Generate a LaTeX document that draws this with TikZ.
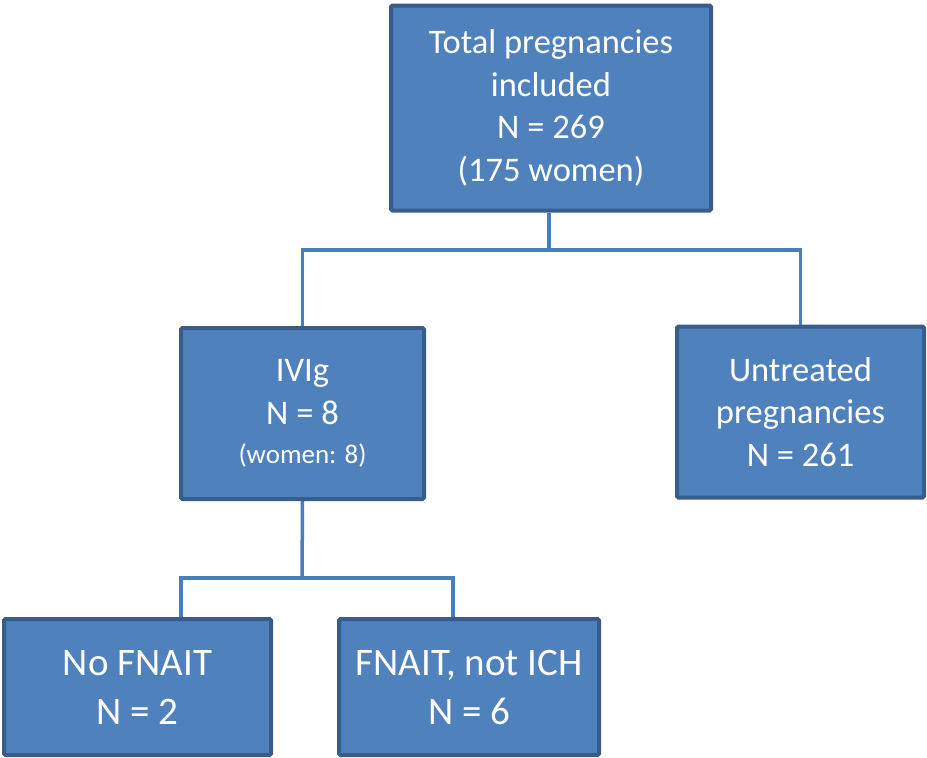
\documentclass[tikz,border=0pt]{standalone}
\usepackage{fontspec}
\setmainfont{Carlito}
\usepackage{xcolor}
\definecolor{boxfill}{HTML}{4F81BD}
\definecolor{boxline}{HTML}{385D8A}
\definecolor{linkblue}{HTML}{4A7EBB}

\begin{document}
\begin{tikzpicture}[x=1pt, y=-1pt,
    group/.style={rectangle, draw=boxline, line width=4pt, fill=boxfill,
      rounded corners=1.5pt, text=white, align=center, inner sep=0pt,
      font=\fontsize{34.5}{42.5}\selectfont},
    leaf/.style={group, font=\fontsize{39}{49}\selectfont},
    link/.style={draw=linkblue, line width=3.5pt}]
    \useasboundingbox (0,0) rectangle (927,758);

    % Top level
    \node[group, minimum width=320, minimum height=205] (total) at (551,108)
        {Total pregnancies\\included\\N = 269\\(175 women)};

    % Second level
    \node[group, minimum width=243, minimum height=171] (ivig) at (302.5,413.5)
        {IVIg\\N = 8\\[-3pt]{\fontsize{27}{32}\selectfont (women: 8)}};
    \node[group, minimum width=247, minimum height=171] (untreated) at (800.5,412)
        {Untreated\\pregnancies\\N = 261};

    % Third level
    \node[leaf, minimum width=267, minimum height=136] (nofnait) at (137.5,687)
        {No FNAIT\\N = 2};
    \node[leaf, minimum width=260, minimum height=136] (fnait) at (469,687)
        {FNAIT, not ICH\\N = 6};

    % Connectors
    \coordinate (bus1) at (549,250);
    \coordinate (bus2) at (302,578);
    \draw[link] (total.south -| bus1) -- (bus1);
    \draw[link] (ivig.north) |- (bus1) -| (untreated.north);
    \draw[link] (ivig.south) -- (bus2);
    \draw[link] ([xshift=43.5]nofnait.north) |- (bus2) -| ([xshift=-16]fnait.north);
\end{tikzpicture}
\end{document}
